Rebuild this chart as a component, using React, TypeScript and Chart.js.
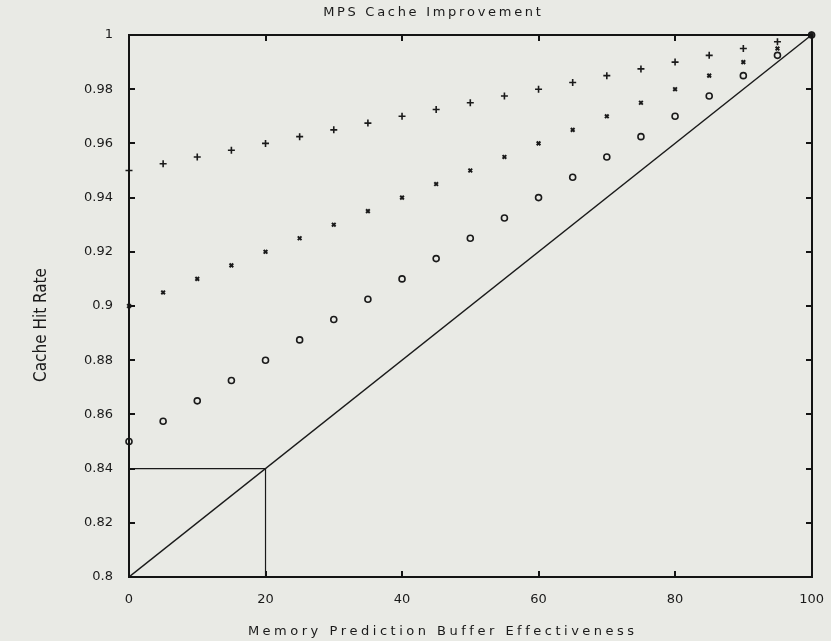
import React, { useEffect, useRef } from "react";
import { Chart, registerables } from "chart.js";

Chart.register(...registerables);

const xValues = [0, 5, 10, 15, 20, 25, 30, 35, 40, 45, 50, 55, 60, 65, 70, 75, 80, 85, 90, 95, 100];
const plusSeries = [0.95, 0.9525, 0.955, 0.9575, 0.96, 0.9625, 0.965, 0.9675, 0.97, 0.9725, 0.975, 0.9775, 0.98, 0.9825, 0.985, 0.9875, 0.99, 0.9925, 0.995, 0.9975, 1];
const crossSeries = [0.9, 0.905, 0.91, 0.915, 0.92, 0.925, 0.93, 0.935, 0.94, 0.945, 0.95, 0.955, 0.96, 0.965, 0.97, 0.975, 0.98, 0.985, 0.99, 0.995, 1];
const circleSeries = [0.85, 0.8575, 0.865, 0.8725, 0.88, 0.8875, 0.895, 0.9025, 0.91, 0.9175, 0.925, 0.9325, 0.94, 0.9475, 0.955, 0.9625, 0.97, 0.9775, 0.985, 0.9925, 1];
const diagX = [0, 100];
const diagY = [0.8, 1];
const guideX = [0, 20, 20];
const guideY = [0.84, 0.84, 0.8];
const xTicks = [0, 20, 40, 60, 80, 100];
const yTicks = [0.8, 0.82, 0.84, 0.86, 0.88, 0.9, 0.92, 0.94, 0.96, 0.98, 1];

const titleText = "MPS Cache Improvement";
const xTitle = "Memory Prediction Buffer Effectiveness";
const yTitle = "Cache Hit Rate";

const INK = "#1a1a1a";
const BG = "#e9eae5";

const pts = (xs: number[], ys: number[]) => xs.map((x, i) => ({ x, y: ys[i] }));

function spacedText(ctx: CanvasRenderingContext2D, text: string, cx: number, cy: number, spacing: number) {
  const chars = Array.from(text);
  const widths = chars.map((c) => ctx.measureText(c).width);
  const total = widths.reduce((a, b) => a + b, 0) + spacing * (chars.length - 1);
  let x = cx - total / 2;
  ctx.textAlign = "left";
  ctx.textBaseline = "middle";
  chars.forEach((c, i) => {
    ctx.fillText(c, x, cy);
    x += widths[i] + spacing;
  });
}

const framePlugin = {
  id: "frame",
  beforeDraw(chart: any) {
    const ctx = chart.ctx;
    ctx.save();
    ctx.fillStyle = BG;
    ctx.fillRect(0, 0, chart.width, chart.height);
    ctx.restore();
  },
  afterDraw(chart: any) {
    const ctx = chart.ctx;
    const xs = chart.scales.x;
    const ys = chart.scales.y;
    const l = Math.round(xs.getPixelForValue(0));
    const r = Math.round(xs.getPixelForValue(100));
    const tp = Math.round(ys.getPixelForValue(1));
    const b = Math.round(ys.getPixelForValue(0.8));
    const w = 2;
    const t = 6;
    ctx.save();
    ctx.fillStyle = "#141414";
    ctx.fillRect(l - 1, tp - 1, r - l + w, w);
    ctx.fillRect(l - 1, b - 1, r - l + w, w);
    ctx.fillRect(l - 1, tp - 1, w, b - tp + w);
    ctx.fillRect(r - 1, tp - 1, w, b - tp + w);
    yTicks.forEach((v) => {
      const y = Math.round(ys.getPixelForValue(v));
      ctx.fillRect(l, y - 1, t, 2);
      ctx.fillRect(r - t, y - 1, t, 2);
    });
    xTicks.forEach((v) => {
      const x = Math.round(xs.getPixelForValue(v));
      ctx.fillRect(x - 1, b - t, 2, t);
      ctx.fillRect(x - 1, tp, 2, t);
    });
    ctx.restore();

    ctx.save();
    ctx.fillStyle = INK;
    ctx.font = "13px 'DejaVu Sans'";
    spacedText(ctx, titleText, 432, 13, 2.7);
    spacedText(ctx, xTitle, 441, 632, 3.5);
    ctx.translate(42, 325);
    ctx.rotate(-Math.PI / 2);
    ctx.font = "17px 'DejaVu Sans Condensed'";
    ctx.textAlign = "center";
    ctx.textBaseline = "middle";
    ctx.fillText(yTitle, 0, 0);
    ctx.restore();
  },
};

export default function App() {
  const ref = useRef<HTMLCanvasElement | null>(null);
  useEffect(() => {
    if (!ref.current) return;
    const chart = new Chart(ref.current, {
      type: "scatter",
      data: {
        datasets: [
          { label: "plus", data: pts(xValues, plusSeries), pointStyle: "cross", pointRadius: 3.5, borderWidth: 1.6, borderColor: INK, backgroundColor: INK, showLine: false, clip: false as any },
          { label: "x", data: pts(xValues, crossSeries), pointStyle: "crossRot", pointRadius: 2.6, borderWidth: 2, borderColor: INK, backgroundColor: INK, showLine: false, clip: false as any },
          { label: "o", data: pts(xValues, circleSeries), pointStyle: "circle", pointRadius: 3, borderWidth: 1.6, borderColor: INK, backgroundColor: "rgba(0,0,0,0)", showLine: false, clip: false as any },
          { label: "diag", data: pts(diagX, diagY), showLine: true, pointRadius: 0, borderWidth: 1.4, borderColor: INK, fill: false },
          { label: "guide", data: pts(guideX, guideY), showLine: true, pointRadius: 0, borderWidth: 1.2, borderColor: INK, fill: false },
        ],
      },
      options: {
        animation: false,
        responsive: false,
        layout: { padding: { top: 35, right: 19, left: 0, bottom: 0 } },
        plugins: { legend: { display: false }, tooltip: { enabled: false }, title: { display: false } },
        scales: {
          x: {
            type: "linear", min: 0, max: 100,
            border: { display: false }, grid: { display: false },
            afterBuildTicks: (s: any) => { s.ticks = xTicks.map((v) => ({ value: v })); },
            afterFit: (s: any) => { s.height = 64; },
            ticks: { color: INK, padding: 7, maxRotation: 0, font: { family: "'DejaVu Sans'", size: 13 } },
          },
          y: {
            type: "linear", min: 0.8, max: 1,
            border: { display: false }, grid: { display: false },
            afterBuildTicks: (s: any) => { s.ticks = yTicks.map((v) => ({ value: v })); },
            afterFit: (s: any) => { s.width = 129; },
            ticks: { color: INK, padding: 8, font: { family: "'DejaVu Sans'", size: 13 }, callback: (v: any) => String(Math.round(Number(v) * 100) / 100) },
          },
        },
      },
      plugins: [framePlugin],
    });
    return () => chart.destroy();
  }, []);
  return (
    <div style={{ position: "fixed", left: 0, top: 0, width: 831, height: 641, background: BG }}>
      <canvas ref={ref} width={831} height={641} style={{ display: "block", width: 831, height: 641 }} />
    </div>
  );
}
